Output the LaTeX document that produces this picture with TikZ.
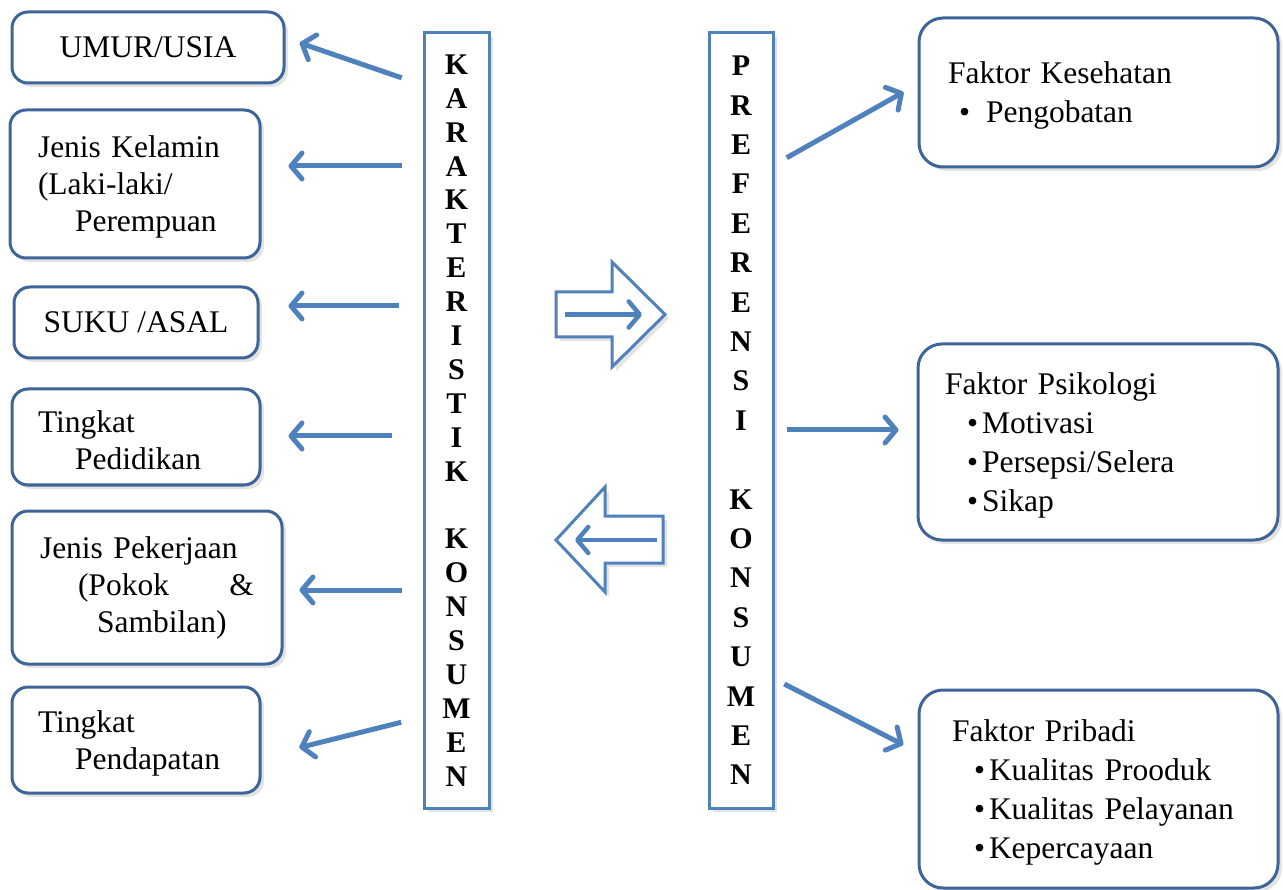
\documentclass[tikz,border=0pt]{standalone}
\usepackage{fontspec}
\setmainfont{Liberation Serif}
\usetikzlibrary{arrows.meta}
\usetikzlibrary{shadows}
\definecolor{boxblue}{RGB}{61,101,151}
\definecolor{lineblue}{RGB}{79,129,189}

\begin{document}
\begin{tikzpicture}[x=1pt, y=-1pt,
                softshadow/.style={drop shadow={shadow xshift=4pt, shadow yshift=-4pt, opacity=0.22}},
                leftnode/.style={rectangle, rounded corners=16pt, draw=boxblue, line width=3pt, fill=white, softshadow, inner sep=0pt, align=left, font=\fontsize{31.5}{37}\selectfont},
                rightnode/.style={rectangle, rounded corners=24pt, draw=boxblue, line width=3pt, fill=white, softshadow, inner sep=0pt, align=left, font=\fontsize{31.5}{39}\selectfont},
                lowered/.style={execute at begin node={\rule{0pt}{28pt}}},
                lettercolumn/.style={rectangle, draw=lineblue, line width=3pt, fill=white, softshadow, minimum width=65pt, minimum height=775pt, inner sep=0pt, align=center},
                connector/.style={lineblue, line width=5pt, -{Straight Barb[length=11pt, width=26pt, round]}},
                bigarrow/.style={draw=lineblue, line width=3pt, fill=white, softshadow},
                ]
                \useasboundingbox (0,0) rectangle (1283,890);

                % karakteristik side
                \node[lettercolumn, font=\bfseries\fontsize{30}{33.9}\selectfont] (kar) at (456.5,420.5)
                    {K\\A\\R\\A\\K\\T\\E\\R\\I\\S\\T\\I\\K\\[33.9pt]K\\O\\N\\S\\U\\M\\E\\N};
                \node[leftnode, minimum width=272pt, minimum height=71pt, align=center] (umur) at (148,47.5) {UMUR/USIA};
                \node[leftnode, lowered, minimum width=250pt, minimum height=148pt, text width=194pt] (kelamin) at (135,184) {Jenis Kelamin\\(Laki-laki/\\\hspace*{37pt}Perempuan};
                \node[leftnode, minimum width=244pt, minimum height=71pt, align=center] (suku) at (136,322.5) {SUKU /ASAL};
                \node[leftnode, lowered, minimum width=248pt, minimum height=96pt, text width=196pt] (didik) at (136,437) {Tingkat\\\hspace*{37pt}Pedidikan};
                \node[leftnode, minimum width=270pt, minimum height=153pt, text width=214pt] (kerja) at (147,587.5) {Jenis Pekerjaan\\\hspace*{38pt}(Pokok\hfill\&\\\hspace*{57pt}Sambilan)};
                \node[leftnode, lowered, minimum width=248pt, minimum height=106pt, text width=196pt] (dapat) at (136,740) {Tingkat\\\hspace*{37pt}Pendapatan};

                % preferensi side
                \node[lettercolumn, minimum width=64pt, font=\bfseries\fontsize{30}{39.4}\selectfont] (pref) at (741,420.5)
                    {P\\R\\E\\F\\E\\R\\E\\N\\S\\I\\[39.4pt]K\\O\\N\\S\\U\\M\\E\\N};
                \node[rightnode, lowered, minimum width=359pt, minimum height=149pt, text width=301pt] (sehat) at (1098.5,92.5) {Faktor Kesehatan\\\hspace*{11pt}•\hspace{16pt}Pengobatan};
                \node[rightnode, lowered, minimum width=360pt, minimum height=196pt, text width=306pt] (psiko) at (1098,442) {Faktor Psikologi\\\hspace*{22pt}•\hspace{4pt}Motivasi\\\hspace*{22pt}•\hspace{4pt}Persepsi/Selera\\\hspace*{22pt}•\hspace{4pt}Sikap};
                \node[rightnode, lowered, minimum width=359pt, minimum height=198pt, text width=293pt] (pribadi) at (1098.5,789) {Faktor Pribadi\\\hspace*{22pt}•\hspace{4pt}Kualitas Prooduk\\\hspace*{22pt}•\hspace{4pt}Kualitas Pelayanan\\\hspace*{22pt}•\hspace{4pt}Kepercayaan};

                % big hollow arrows in the middle
                \draw[bigarrow] (556,292) -- (612,292) -- (612,262) -- (665,314.5) -- (612,367) -- (612,337) -- (556,337) -- cycle;
                \draw[connector, line width=4.5pt] (565,314.5) -- (642,314.5);
                \draw[bigarrow] (663,516) -- (605,516) -- (605,487) -- (556,540) -- (605,592) -- (605,563) -- (663,563) -- cycle;
                \draw[connector, line width=4.5pt] (657,540) -- (575,540);

                \draw[connector, shorten <=22pt, shorten >=15pt] (kar.west |- 0,85) -- (umur.east |- 0,38);
                \draw[connector, shorten <=21pt, shorten >=27pt] (kar.west |- 0,166) -- (kelamin.east |- 0,166);
                \draw[connector, shorten <=24pt, shorten >=29pt] (kar.west |- 0,306) -- (suku.east |- 0,306);
                \draw[connector, shorten <=31pt, shorten >=27pt] (kar.west |- 0,436) -- (didik.east |- 0,436);
                \draw[connector, shorten <=21pt, shorten >=16pt] (kar.west |- 0,590) -- (kerja.east |- 0,590);
                \draw[connector, shorten <=22pt, shorten >=39pt] (kar.west |- 0,717) -- (dapat.east |- 0,757);

                \draw[connector, shorten <=14pt, shorten >=16pt] (pref.east |- 0,164.6) -- (sehat.west |- 0,84.3);
                \draw[connector, shorten <=12pt, shorten >=18pt] (pref.east |- 0,430) -- (psiko.west |- 0,430);
                \draw[connector, shorten <=11pt, shorten >=16pt] (pref.east |- 0,679) -- (pribadi.west |- 0,752);
            \end{tikzpicture}
\end{document}
